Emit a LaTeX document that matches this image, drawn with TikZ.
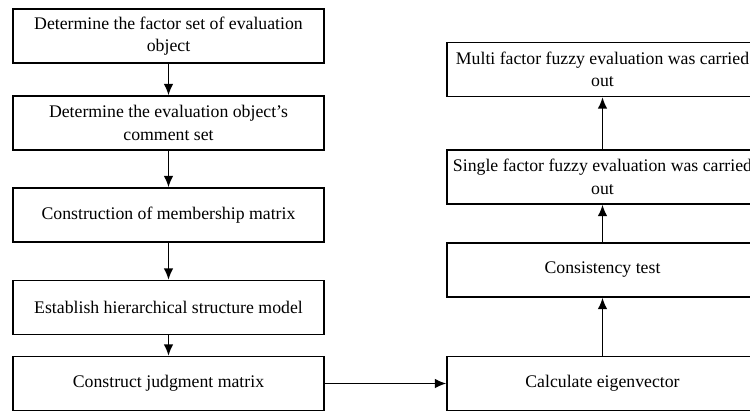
\documentclass[tikz,border=0pt]{standalone}
\usepackage{fontspec}
\setmainfont{Liberation Serif}
\usetikzlibrary{arrows.meta}

\begin{document}
\begin{tikzpicture}[>={Latex[length=6.5pt,width=5.5pt]}, x=0.02cm, y=-0.02cm,
    stepbox/.style={draw, minimum width=6.22cm,
        minimum height=1.08cm, align=center, inner sep=1pt,
        font=\fontsize{10.1}{12.8}\selectfont},
    every path/.style={line width=0.85pt}]

% white background
\fill[white] (0,0) rectangle (750,414);
\useasboundingbox (0,0) rectangle (750,414);
%\draw [help lines, lightgray] (0,0) grid[step=50] (750,414);

% left column
\node[stepbox] (factor) at (168.5, 36) {Determine the factor set of evaluation\\object};
\node[stepbox] (comment) at (168.5, 123) {Determine the evaluation object's\\comment set};
\node[stepbox] (member) at (168.5, 215) {Construction of membership matrix};
\node[stepbox] (model) at (168.5, 307.5) {Establish hierarchical structure model};
\node[stepbox] (judge) at (168.5, 383.5) {Construct judgment matrix};

% right column
\node[stepbox] (eigen) at (602.5, 383.5) {Calculate eigenvector};
\node[stepbox] (consist) at (602.5, 270) {Consistency test};
\node[stepbox] (single) at (602.5, 177) {Single factor fuzzy evaluation was carried\\out};
\node[stepbox] (multi) at (602.5, 69.5) {Multi factor fuzzy evaluation was carried\\out};

\draw[->] (factor) -- (comment);
\draw[->] (comment) -- (member);
\draw[->] (member) -- (model);
\draw[->] (model) -- (judge);
\draw[->] (judge) -- (eigen);
\draw[->] (eigen) -- (consist);
\draw[->] (consist) -- (single);
\draw[->] (single) -- (multi);

\end{tikzpicture}
\end{document}
